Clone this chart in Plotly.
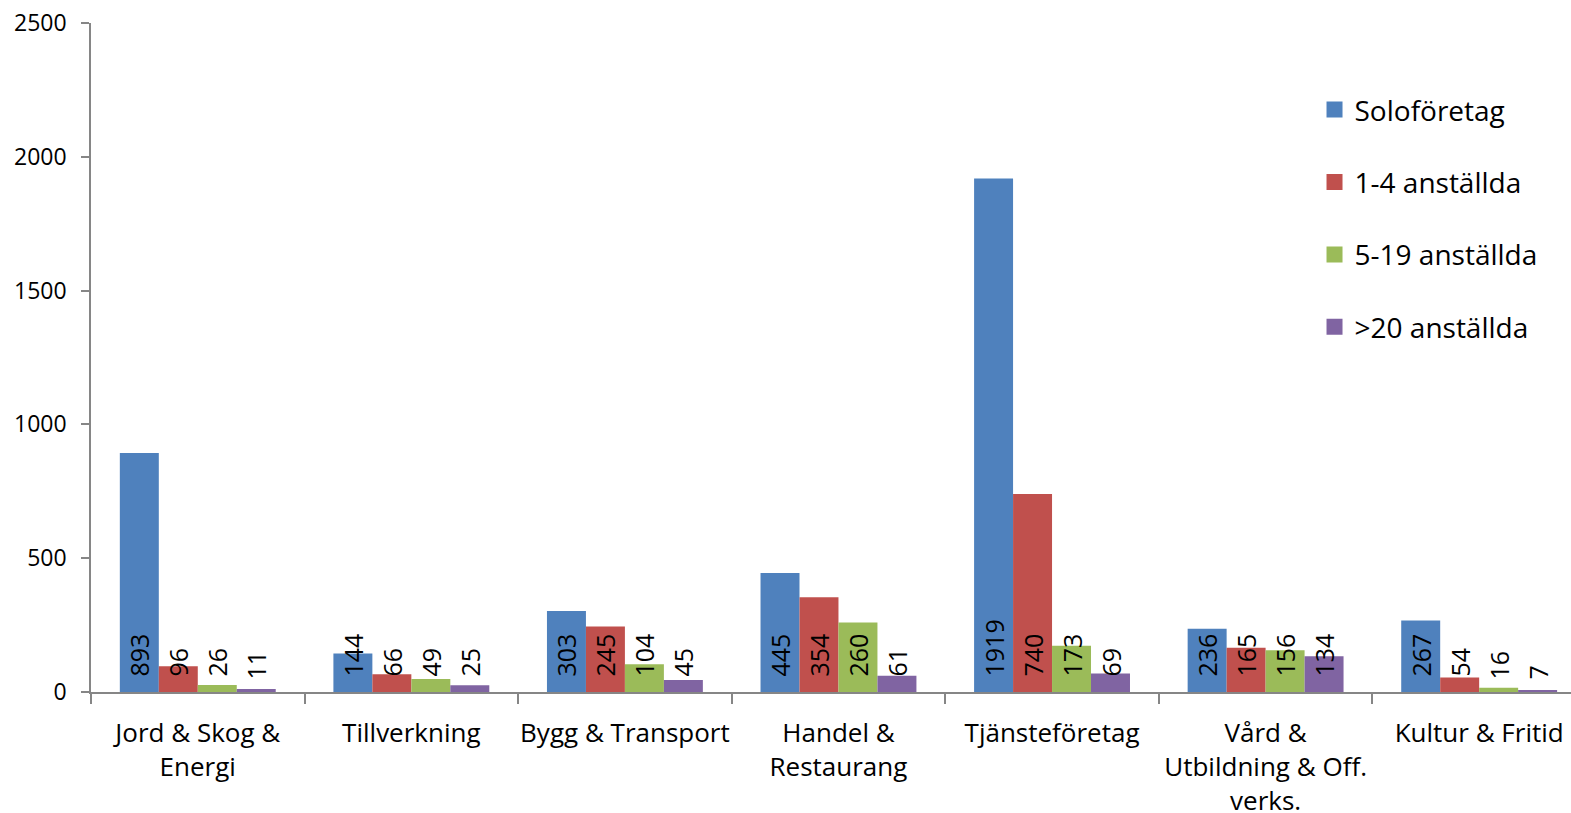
import plotly.graph_objects as go

categories = ["Jord & Skog &<br>Energi", "Tillverkning", "Bygg & Transport",
              "Handel &<br>Restaurang", "Tjänsteföretag",
              "Vård &<br>Utbildning & Off.<br>verks.", "Kultur & Fritid"]
series_names = ["Soloföretag", "1-4 anställda", "5-19 anställda", ">20 anställda"]
solo = [893, 144, 303, 445, 1919, 236, 267]
emp_1_4 = [96, 66, 245, 354, 740, 165, 54]
emp_5_19 = [26, 49, 104, 260, 173, 156, 16]
emp_20 = [11, 25, 45, 61, 69, 134, 7]
colors = ["#4F81BD", "#C0504D", "#9BBB59", "#8064A2"]

FONT = "Open Sans"
fig = go.Figure()
for i, (name, vals) in enumerate(zip(series_names, [solo, emp_1_4, emp_5_19, emp_20])):
    fig.add_trace(go.Bar(
        x=categories, y=vals, name=name,
        marker=dict(color=colors[i], line=dict(width=0)),
        text=vals, texttemplate="\u2002%{text}",
        textposition="inside", insidetextanchor="start", textangle=-90,
        constraintext="none", cliponaxis=False,
        insidetextfont=dict(family=FONT, size=25, color="black"),
        legendgroup=f"g{i}", showlegend=False,
    ))
    # legend entry with a larger square swatch
    fig.add_trace(go.Scatter(
        x=[None], y=[None], mode="markers", name=name,
        marker=dict(symbol="square", size=16, color=colors[i], line=dict(width=0)),
        legendgroup=f"g{i}", showlegend=True, hoverinfo="skip",
    ))

fig.update_layout(
    width=1571, height=813,
    margin=dict(l=91, r=0, t=23, b=121),
    paper_bgcolor="white", plot_bgcolor="white",
    barmode="group", bargap=0.27, bargroupgap=0,
    font=dict(family=FONT, size=23, color="black"),
    showlegend=True,
    legend=dict(x=0.8267, y=0.9075, xanchor="left", yanchor="top",
                font=dict(family=FONT, size=28, color="black"),
                tracegroupgap=33, traceorder="grouped",
                bgcolor="rgba(0,0,0,0)", borderwidth=0),
    xaxis=dict(range=[-0.5, 6.43], showline=True, linecolor="#868686", linewidth=1.5,
               ticks="outside", tickson="boundaries", ticklen=10, tickcolor="#868686",
               tickwidth=1.5, showgrid=False, zeroline=False, tickangle=0, automargin=False,
               tickfont=dict(family=FONT, size=26, color="black"), ticklabelstandoff=17),
    yaxis=dict(range=[0, 2500], dtick=500, showline=True, linecolor="#868686", linewidth=1.5,
               ticks="outside", ticklen=8, tickcolor="#868686", tickwidth=1.5,
               showgrid=False, zeroline=False, automargin=False,
               tickfont=dict(family=FONT, size=23, color="black"), ticklabelstandoff=10),
)
fig.write_html("out.html", config={"displayModeBar": False},
               post_script="document.body.style.margin='0px';")
